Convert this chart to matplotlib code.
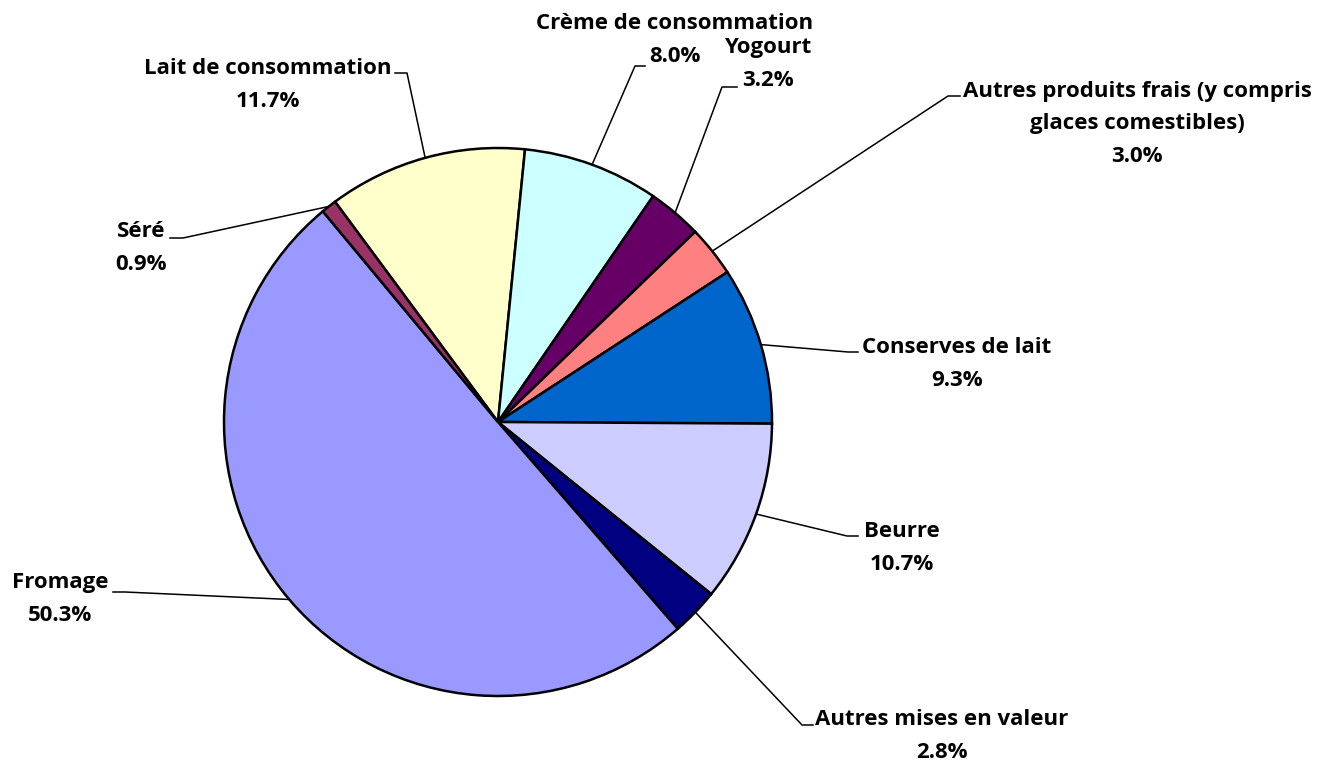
import matplotlib.pyplot as plt
import numpy as np

plt.rcParams['font.family'] = ['Open Sans', 'DejaVu Sans']

# Données (ordre dans le sens horaire, en partant de "Lait de consommation")
categories = ["Lait de consommation", "Crème de consommation", "Yogourt",
              "Autres produits frais (y compris\nglaces comestibles)",
              "Conserves de lait", "Beurre", "Autres mises en valeur",
              "Fromage", "Séré"]
parts = [11.7, 8.0, 3.2, 3.0, 9.3, 10.7, 2.8, 50.3, 0.9]
couleurs = ["#FFFFCC", "#CCFFFF", "#660066", "#FF8080", "#0066CC",
            "#CCCCFF", "#000080", "#9999FF", "#993366"]

W, H = 1319, 760

# position des étiquettes (pixels, y vers le bas): centre du texte, coude, fin du trait
etiquettes = [
    ((268, 85), (407, 73), (395, 73)),
    ((675, 40), (635, 66), (645, 66)),
    ((768, 64), (722, 87), (737, 87)),
    ((1137, 124), (948, 96), (960, 96)),
    ((957, 364), (848, 352), (858, 352)),
    ((902, 548), (847, 536), (858, 536)),
    ((942, 736), (802, 725), (813, 725)),
    ((60, 599), (125, 592), (113, 592)),
    ((141, 248), (183, 238), (170, 238)),
]


def px(x, y):
    return x, H - y


fig = plt.figure(figsize=(W / 100, H / 100), dpi=100)
ax = fig.add_axes([0, 0, 1, 1])

cx, cy = px(498, 422)
r = 274
wedges, _ = ax.pie(parts, colors=couleurs, startangle=126.5, counterclock=False,
                   center=(cx, cy), radius=r,
                   wedgeprops=dict(edgecolor='black', linewidth=1.8))

for w, cat, val, (txt, coude, fin) in zip(wedges, categories, parts, etiquettes):
    mid = np.deg2rad((w.theta1 + w.theta2) / 2)
    x0, y0 = cx + r * np.cos(mid), cy + r * np.sin(mid)
    xs = [x0, px(*coude)[0], px(*fin)[0]]
    ys = [y0, px(*coude)[1], px(*fin)[1]]
    ax.plot(xs, ys, color='black', linewidth=1.1, zorder=3)
    ax.text(*px(*txt), f"{cat}\n{val:.1f}%", ha='center', va='center',
            fontsize=16, fontweight='bold', linespacing=1.7, color='black')

ax.set_xlim(0, W)
ax.set_ylim(0, H)
ax.axis('off')

fig.savefig('out.png', dpi=100)
